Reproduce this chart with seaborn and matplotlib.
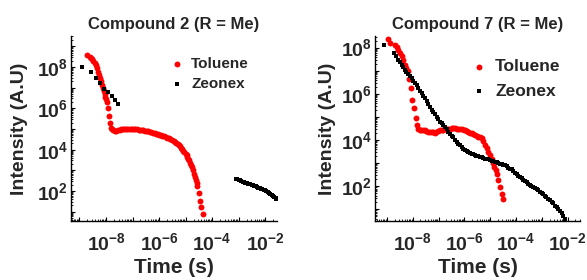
import numpy as np
import pandas as pd
import matplotlib
matplotlib.use("Agg")
import matplotlib.pyplot as plt
import matplotlib.ticker as mticker
import seaborn as sns

sns.set_style("white")
plt.rcParams["font.family"] = ["Liberation Sans", "DejaVu Sans"]
plt.rcParams["font.weight"] = "bold"
plt.rcParams["mathtext.fontset"] = "custom"
plt.rcParams["mathtext.rm"] = "Liberation Sans:bold"
plt.rcParams["mathtext.bf"] = "Liberation Sans:bold"
plt.rcParams["mathtext.it"] = "Liberation Sans:bold"
plt.rcParams["mathtext.default"] = "bf"

titles = ["Compound 2 (R = Me)", "Compound 7 (R = Me)"]
series_names = ["Toluene", "Zeonex"]
xlabel = "Time (s)"
ylabel = "Intensity (A.U)"
x_label_exps = [-8, -6, -4, -2]
y_label_exps = [2, 4, 6, 8]

# Values, as log10(time / s) and log10(intensity)
c2_tol_logt = [-8.73, -8.62, -8.57, -8.52, -8.48, -8.43, -8.38, -8.33, -8.29, -8.25, -8.22, -8.18,
               -8.14, -8.11, -8.08, -8.05, -8.02, -7.99, -7.97, -7.94, -7.90, -7.86, -7.82, -7.77,
               -7.72, -7.67, -7.61, -7.55, -7.49, -7.43, -7.37, -7.31, -7.25, -7.19, -7.13, -7.07,
               -7.01, -6.95, -6.89, -6.83, -6.77, -6.71, -6.65, -6.59, -6.53, -6.47, -6.41, -6.35,
               -6.29, -6.23, -6.17, -6.11, -6.05, -5.99, -5.93, -5.87, -5.81, -5.75, -5.69, -5.63,
               -5.57, -5.51, -5.45, -5.40, -5.35, -5.30, -5.25, -5.20, -5.16, -5.12, -5.08, -5.04,
               -5.00, -4.96, -4.93, -4.89, -4.86, -4.83, -4.79, -4.76, -4.72, -4.67, -4.64, -4.61,
               -4.58, -4.55, -4.51, -4.46, -4.41, -4.34]
c2_tol_logI = [8.58, 8.50, 8.45, 8.38, 8.31, 8.20, 8.10, 7.93, 7.77, 7.60, 7.45, 7.30,
               7.13, 6.99, 6.85, 6.70, 6.56, 6.44, 6.32, 6.00, 5.62, 5.30, 5.07, 4.98,
               4.93, 4.91, 4.92, 4.95, 4.97, 4.99, 5.00, 5.01, 5.02, 5.02, 5.01, 5.00,
               5.00, 4.99, 4.99, 4.98, 4.97, 4.96, 4.95, 4.94, 4.92, 4.91, 4.89, 4.87,
               4.85, 4.83, 4.81, 4.78, 4.76, 4.73, 4.70, 4.68, 4.65, 4.62, 4.58, 4.55,
               4.51, 4.47, 4.43, 4.39, 4.34, 4.29, 4.23, 4.16, 4.10, 4.03, 3.96, 3.89,
               3.81, 3.72, 3.64, 3.56, 3.49, 3.38, 3.27, 3.16, 3.00, 2.84, 2.68, 2.51,
               2.37, 2.22, 1.90, 1.54, 1.22, 0.90]

c2_zeo_logt = [-8.92, -8.57, -8.37, -8.21, -8.06, -7.92, -7.79, -7.67, -7.54,
               -3.11, -3.05, -3.00, -2.95, -2.90, -2.85, -2.80, -2.75, -2.70, -2.65, -2.60,
               -2.55, -2.50, -2.45, -2.40, -2.35, -2.30, -2.25, -2.20, -2.15, -2.10, -2.05,
               -2.00, -1.95, -1.90, -1.85, -1.80, -1.75, -1.70, -1.65, -1.60, -1.58]
c2_zeo_logI = [8.01, 7.76, 7.47, 7.22, 6.96, 6.77, 6.59, 6.40, 6.23,
               2.60, 2.57, 2.54, 2.51, 2.48, 2.45, 2.43, 2.41, 2.38, 2.36, 2.34,
               2.32, 2.30, 2.27, 2.25, 2.22, 2.20, 2.17, 2.14, 2.11, 2.08, 2.06,
               2.03, 2.00, 1.96, 1.92, 1.87, 1.82, 1.77, 1.72, 1.66, 1.63]

c7_tol_logt = [-8.95, -8.88, -8.69, -8.62, -8.56, -8.50, -8.43, -8.37, -8.30, -8.25, -8.20, -8.14,
               -8.07, -8.02, -7.95, -7.88, -7.83, -7.78, -7.72, -7.66, -7.60, -7.53, -7.47, -7.40,
               -7.33, -7.27, -7.20, -7.14, -7.08, -7.01, -6.94, -6.88, -6.81, -6.75, -6.68, -6.62,
               -6.55, -6.49, -6.42, -6.36, -6.29, -6.23, -6.16, -6.10, -6.03, -5.97, -5.91, -5.85,
               -5.78, -5.72, -5.65, -5.59, -5.52, -5.46, -5.40, -5.33, -5.27, -5.20, -5.14, -5.07,
               -5.01, -4.94, -4.89, -4.84, -4.79, -4.75, -4.69, -4.62, -4.55, -4.52]
c7_tol_logI = [8.35, 8.20, 8.13, 8.02, 7.91, 7.77, 7.62, 7.45, 7.26, 7.11, 6.97, 6.64,
               6.25, 5.74, 5.38, 4.94, 4.65, 4.50, 4.43, 4.42, 4.44, 4.43, 4.40, 4.37,
               4.36, 4.36, 4.34, 4.32, 4.36, 4.40, 4.42, 4.43, 4.45, 4.47, 4.47, 4.48,
               4.50, 4.52, 4.51, 4.51, 4.50, 4.49, 4.48, 4.48, 4.45, 4.42, 4.40, 4.36,
               4.32, 4.29, 4.25, 4.22, 4.19, 4.15, 4.12, 4.07, 3.94, 3.78, 3.64, 3.49,
               3.35, 3.20, 3.02, 2.84, 2.70, 2.55, 2.26, 1.97, 1.68, 1.43]

c7_zeo_logt = [-9.10, -8.73, -8.66, -8.56, -8.50, -8.43, -8.37, -8.30, -8.24, -8.17, -8.11, -8.04,
               -7.98, -7.91, -7.85, -7.78, -7.72, -7.65, -7.59, -7.53, -7.46, -7.40, -7.33, -7.27,
               -7.20, -7.14, -7.07, -7.01, -6.94, -6.88, -6.81, -6.75, -6.68, -6.62, -6.56, -6.49,
               -6.43, -6.36, -6.30, -6.23, -6.17, -6.10, -6.04, -5.97, -5.91, -5.85, -5.78, -5.72,
               -5.65, -5.59, -5.53, -5.46, -5.40, -5.33, -5.27, -5.20, -5.14, -5.07, -5.01, -4.94,
               -4.88, -4.81, -4.75, -4.68, -4.62, -4.56, -4.49, -4.43, -4.36, -4.30, -4.23, -4.17,
               -4.10, -4.04, -3.97, -3.91, -3.84, -3.78, -3.72, -3.65, -3.59, -3.52, -3.46, -3.40,
               -3.33, -3.27, -3.20, -3.14, -3.08, -3.01, -2.95, -2.88, -2.82, -2.75, -2.69, -2.62,
               -2.56, -2.49, -2.43, -2.36, -2.30, -2.23, -2.17, -2.10]
c7_zeo_logI = [8.13, 7.77, 7.62, 7.48, 7.38, 7.26, 7.15, 7.04, 6.95, 6.85, 6.76, 6.67,
               6.57, 6.47, 6.38, 6.26, 6.14, 6.03, 5.92, 5.81, 5.69, 5.58, 5.45, 5.30,
               5.22, 5.12, 5.00, 4.90, 4.80, 4.72, 4.64, 4.58, 4.47, 4.36, 4.26, 4.16,
               4.12, 4.02, 3.93, 3.85, 3.78, 3.70, 3.63, 3.57, 3.53, 3.49, 3.45, 3.41,
               3.38, 3.35, 3.32, 3.30, 3.27, 3.25, 3.23, 3.20, 3.18, 3.16, 3.13, 3.10,
               3.08, 3.06, 3.03, 3.00, 2.97, 2.95, 2.92, 2.91, 2.86, 2.80, 2.76, 2.73,
               2.65, 2.58, 2.52, 2.46, 2.40, 2.34, 2.29, 2.23, 2.18, 2.12, 2.07, 2.03,
               1.98, 1.93, 1.88, 1.83, 1.77, 1.72, 1.65, 1.58, 1.53, 1.47, 1.40, 1.33,
               1.26, 1.17, 1.10, 1.03, 0.94, 0.83, 0.73, 0.60]


def frame(logt, logI, name):
    return pd.DataFrame({"time": 10.0 ** np.asarray(logt),
                         "intensity": 10.0 ** np.asarray(logI),
                         "solvent": name})


panels = [
    (frame(c2_tol_logt, c2_tol_logI, series_names[0]), frame(c2_zeo_logt, c2_zeo_logI, series_names[1])),
    (frame(c7_tol_logt, c7_tol_logI, series_names[0]), frame(c7_zeo_logt, c7_zeo_logI, series_names[1])),
]

fig = plt.figure(figsize=(5.87, 2.80), dpi=100)
ax_rects = [[71 / 587, 59 / 280, 206 / 587, 185 / 280],
            [375 / 587, 59 / 280, 205 / 587, 185 / 280]]
xlims = [(10 ** -9.32, 10 ** -1.55), (10 ** -9.46, 10 ** -1.52)]
ylims = [(10 ** 0.55, 10 ** 9.5), (10 ** 0.5, 10 ** 8.5)]
legend_anchor = [(169 / 587, 1 - 57 / 280), (470 / 587, 1 - 59 / 280)]
legend_fs = [11, 12.5]
legend_spacing = [0.4, 0.55]
ylabel_x = [-0.21, -0.19]


def make_formatter(allowed):
    def fmt(v, pos):
        e = int(round(np.log10(v)))
        if e not in allowed:
            return ""
        return r"$\mathbf{10^{%d}}$" % e
    return mticker.FuncFormatter(fmt)


for i, (tol, zeo) in enumerate(panels):
    ax = fig.add_axes(ax_rects[i])
    sns.scatterplot(data=tol, x="time", y="intensity", color="#ff0000", marker="o",
                    s=18, linewidth=0, ax=ax, label=series_names[0])
    sns.scatterplot(data=zeo, x="time", y="intensity", color="#000000", marker="s",
                    s=10, linewidth=0, ax=ax, label=series_names[1])
    ax.set_xscale("log")
    ax.set_yscale("log")
    ax.set_xlim(*xlims[i])
    ax.set_ylim(*ylims[i])
    for sp in ["top", "right"]:
        ax.spines[sp].set_visible(False)
    for sp in ["left", "bottom"]:
        ax.spines[sp].set_color("black")
        ax.spines[sp].set_linewidth(1.0)
    ax.xaxis.set_major_locator(mticker.LogLocator(base=10, numticks=30))
    ax.yaxis.set_major_locator(mticker.LogLocator(base=10, numticks=30))
    ax.xaxis.set_minor_locator(mticker.LogLocator(base=10, subs=np.arange(2, 10), numticks=30))
    ax.yaxis.set_minor_locator(mticker.LogLocator(base=10, subs=np.arange(2, 10), numticks=30))
    ax.xaxis.set_major_formatter(make_formatter(x_label_exps))
    ax.yaxis.set_major_formatter(make_formatter(y_label_exps))
    ax.xaxis.set_minor_formatter(mticker.NullFormatter())
    ax.yaxis.set_minor_formatter(mticker.NullFormatter())
    ax.tick_params(axis="both", which="major", direction="in", length=3, width=0.8,
                   labelsize=14, color="black")
    ax.tick_params(axis="both", which="minor", direction="in", length=1.5, width=0.6,
                   color="black")
    ax.tick_params(axis="x", which="major", pad=8)
    ax.tick_params(axis="y", which="major", pad=2)
    ax.tick_params(left=True, bottom=True, which="both")
    ax.set_title(titles[i], fontsize=12, fontweight="bold", pad=5)
    ax.set_xlabel(xlabel, fontsize=15, fontweight="bold")
    ax.set_ylabel(ylabel, fontsize=14, fontweight="bold")
    ax.xaxis.set_label_coords(0.5, -0.2)
    ax.yaxis.set_label_coords(ylabel_x[i], 0.5)
    ax.legend(loc="upper left", bbox_to_anchor=legend_anchor[i], bbox_transform=fig.transFigure,
              frameon=False, borderpad=0, borderaxespad=0, handlelength=1.0,
              handletextpad=0.45, labelspacing=legend_spacing[i],
              prop={"size": legend_fs[i], "weight": "bold"}, markerscale=1.0)

fig.savefig("out.png", dpi=100)
